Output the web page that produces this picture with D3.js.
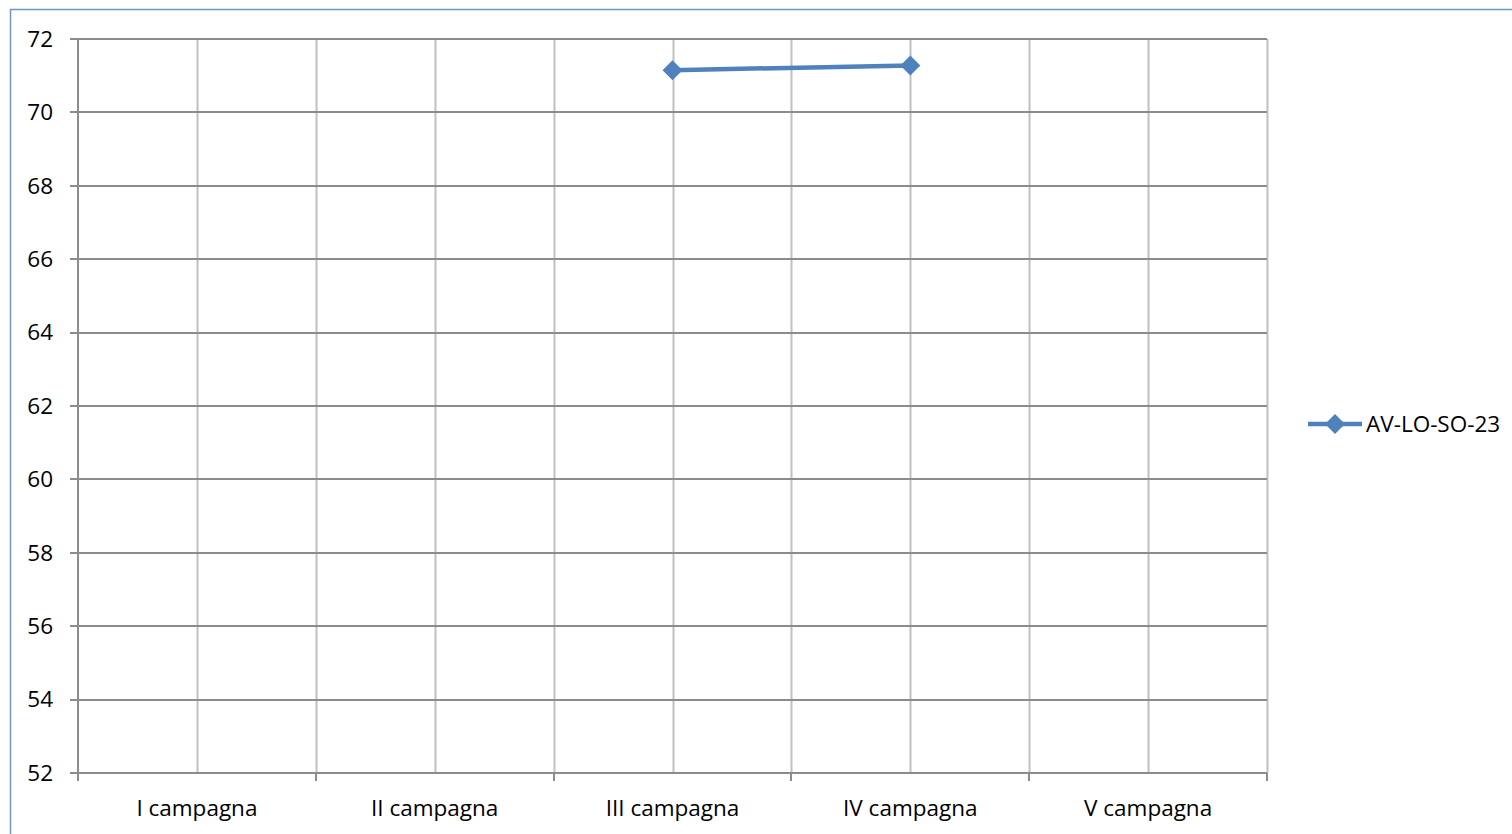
<!DOCTYPE html>
<html>
<head>
<meta charset="utf-8">
<script src="https://cdn.jsdelivr.net/npm/d3@7"></script>
<style>
  body { margin: 0; background: #fff; }
  svg { display: block; font-family: "Open Sans", "Noto Sans", sans-serif; }
</style>
</head>
<body>
<svg id="chart" width="1512" height="834"></svg>
<script>
// data
const categories = ["I campagna", "II campagna", "III campagna", "IV campagna", "V campagna"];
const seriesName = "AV-LO-SO-23";
const seriesValues = [null, null, 71.15, 71.28, null];
const yTicks = [52, 54, 56, 58, 60, 62, 64, 66, 68, 70, 72];

let svg = d3.select("#chart");

let margin = {top: 39, left: 78},
    width = 1267 - 78,
    height = 773 - 39;

// outer chart border (left + top visible)
svg.append("path")
    .attr("d", "M10.5,834 L10.5,9.5 L1512,9.5")
    .attr("fill", "none")
    .attr("stroke", "#7096c8")
    .attr("stroke-width", 1.5);

let g = svg.append("g")
    .attr("transform", "translate(" + margin.left + "," + margin.top + ")");

let x = d3.scaleBand().domain(categories).range([0, width]);
let y = d3.scaleLinear().domain([52, 72]).range([height, 0]);

// vertical gridlines at band edges and centres
let vLines = [];
categories.forEach(function(c) {
    vLines.push(x(c));
    vLines.push(x(c) + x.bandwidth() / 2);
});
vLines.push(width);
vLines = vLines.slice(1);

g.selectAll("line.vgrid")
    .data(vLines)
    .enter().append("line")
    .attr("class", "vgrid")
    .attr("x1", d => Math.round(d) + 0.5)
    .attr("x2", d => Math.round(d) + 0.5)
    .attr("y1", 0)
    .attr("y2", height)
    .attr("stroke", "#c0c0c0")
    .attr("stroke-width", 2);

// horizontal gridlines
g.selectAll("line.hgrid")
    .data(yTicks)
    .enter().append("line")
    .attr("class", "hgrid")
    .attr("x1", -8)
    .attr("x2", width)
    .attr("y1", d => Math.round(y(d)))
    .attr("y2", d => Math.round(y(d)))
    .attr("stroke", "#8c8c8c")
    .attr("stroke-width", 2);

// y axis line
g.append("line")
    .attr("x1", 0).attr("x2", 0)
    .attr("y1", 0).attr("y2", height + 8)
    .attr("stroke", "#8c8c8c")
    .attr("stroke-width", 2);

// bottom ticks at band edges
let edges = categories.map(c => x(c)).concat([width]);
g.selectAll("line.xtick")
    .data(edges.slice(1))
    .enter().append("line")
    .attr("class", "xtick")
    .attr("x1", d => Math.round(d))
    .attr("x2", d => Math.round(d))
    .attr("y1", height)
    .attr("y2", height + 8)
    .attr("stroke", "#8c8c8c")
    .attr("stroke-width", 2);

// y labels
g.selectAll("text.ylab")
    .data(yTicks)
    .enter().append("text")
    .attr("class", "ylab")
    .attr("x", -25)
    .attr("y", d => y(d))
    .attr("dy", "0.35em")
    .attr("text-anchor", "end")
    .attr("font-size", 22.5)
    .attr("fill", "#000")
    .text(d => d);

// x labels
g.selectAll("text.xlab")
    .data(categories)
    .enter().append("text")
    .attr("class", "xlab")
    .attr("x", d => x(d) + x.bandwidth() / 2)
    .attr("y", height + 35)
    .attr("dy", "0.35em")
    .attr("text-anchor", "middle")
    .attr("font-size", 22.5)
    .attr("fill", "#000")
    .text(d => d);

// series line
let points = categories.map((c, i) => ({cat: c, v: seriesValues[i]}));
let line = d3.line()
    .defined(d => d.v != null)
    .x(d => x(d.cat) + x.bandwidth() / 2)
    .y(d => y(d.v));

g.append("path")
    .datum(points)
    .attr("d", line)
    .attr("fill", "none")
    .attr("stroke", "#4f81bd")
    .attr("stroke-width", 4.5);

let diamond = d3.symbol().type(d3.symbolSquare).size(200);

g.selectAll("path.marker")
    .data(points.filter(d => d.v != null))
    .enter().append("path")
    .attr("class", "marker")
    .attr("d", diamond)
    .attr("transform", d => "translate(" + (x(d.cat) + x.bandwidth() / 2) + "," + y(d.v) + ") rotate(45)")
    .attr("fill", "#4f81bd");

// legend
let leg = svg.append("g").attr("transform", "translate(1308,424)");
leg.append("line")
    .attr("x1", 0).attr("x2", 54)
    .attr("stroke", "#4f81bd")
    .attr("stroke-width", 4.5);
leg.append("path")
    .attr("d", diamond)
    .attr("transform", "translate(27,0) rotate(45)")
    .attr("fill", "#4f81bd");
leg.append("text")
    .attr("x", 58)
    .attr("dy", "0.35em")
    .attr("font-size", 22.5)
    .attr("fill", "#000")
    .text(seriesName);
</script>
</body>
</html>
